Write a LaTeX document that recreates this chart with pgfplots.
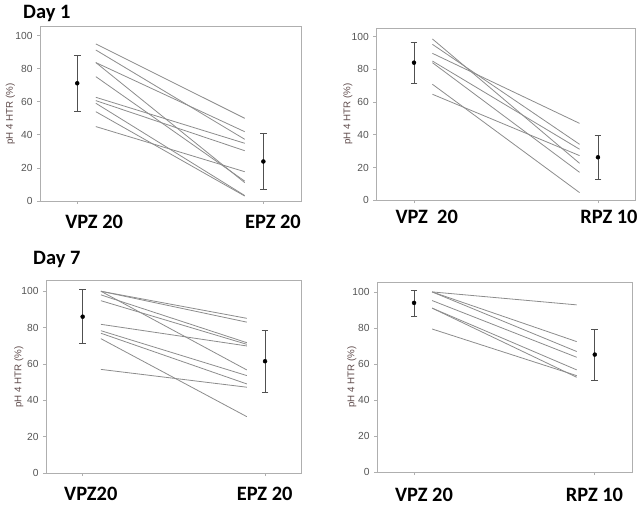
\documentclass[border=0pt]{standalone}
\usepackage{fontspec}
\setmainfont{Carlito}
\newfontfamily\tickfont{Liberation Sans}
\usepackage{pgfplots}
\pgfplotsset{compat=1.18}
\definecolor{frame}{RGB}{175,175,175}
\definecolor{ln}{RGB}{140,140,140}
\definecolor{tl}{RGB}{85,85,85}
\definecolor{yl}{RGB}{95,75,75}
\definecolor{eb}{RGB}{80,80,80}
\pgfplotsset{
  panel/.style={
    scale only axis,
    axis line style={frame, line width=0.8bp},
    ymin=0, ytick={0,20,40,60,80,100},
    xtick={0,1}, xticklabels={,},
    tick align=outside,
    major tick length=3bp,
    tick style={frame, line width=0.7bp},
    xtick pos=bottom, ytick pos=left,
    /pgf/number format/assume math mode=true,
    yticklabel style={font=\tickfont\fontsize{10.3}{11}\selectfont, text=tl, xshift=-1bp},
    ylabel={pH 4 HTR (\%)},
    ylabel style={font=\tickfont\fontsize{9.8}{10}\selectfont, text=yl, anchor=center},
    clip=false,
  },
  pl/.style={ln, line width=0.8bp, no marks},
  eplot/.style={only marks, mark=*, mark size=2bp, black,
    error bars/.cd, y dir=both, y explicit,
    error bar style={eb, line width=0.6bp},
    error mark options={rotate=90, mark size=3.3bp, eb, line width=0.6bp}},
}
\newcommand\catfont{\bfseries\fontsize{20.5}{20.5}\selectfont}
\begin{document}
\begin{tikzpicture}[x=1bp,y=1bp]
\useasboundingbox (0bp,0bp) rectangle (644bp,506bp);
% ---------------- Panel 1: Day 1, VPZ 20 vs EPZ 20
\begin{axis}[panel, at={(40bp,305bp)}, anchor=south west,
  width=261.7bp, height=174.3bp, xmin=-0.2, xmax=1.206, ymax=105.4,
  ylabel style={at={(axis description cs:-0.113,0.5)}}]
\addplot[pl] coordinates {(0.1,95) (0.9,50)};
\addplot[pl] coordinates {(0.1,91.3) (0.9,37.3)};
\addplot[pl] coordinates {(0.1,83.7) (0.9,41.9)};
\addplot[pl] coordinates {(0.1,83.7) (0.9,11.1)};
\addplot[pl] coordinates {(0.1,75.2) (0.9,12)};
\addplot[pl] coordinates {(0.1,62.7) (0.9,34.9)};
\addplot[pl] coordinates {(0.1,60.7) (0.9,30.4)};
\addplot[pl] coordinates {(0.1,59.1) (0.9,3.3)};
\addplot[pl] coordinates {(0.1,54) (0.9,3)};
\addplot[pl] coordinates {(0.1,45) (0.9,17.7)};
\addplot[eplot] coordinates {(0,71.2) +- (0,17) (1,23.9) +- (0,16.8)};
\end{axis}
% ---------------- Panel 2: Day 1, VPZ 20 vs RPZ 10
\begin{axis}[panel, at={(376.3bp,305.7bp)}, anchor=south west,
  width=259bp, height=172bp, xmin=-0.205, xmax=1.203, ymax=105.1,
  ylabel style={at={(axis description cs:-0.110,0.5)}}]
\addplot[pl] coordinates {(0.1,98.6) (0.9,22.6)};
\addplot[pl] coordinates {(0.1,95.3) (0.9,34.2)};
\addplot[pl] coordinates {(0.1,89.8) (0.9,47)};
\addplot[pl] coordinates {(0.1,85.1) (0.9,31.2)};
\addplot[pl] coordinates {(0.1,84.1) (0.9,17.1)};
\addplot[pl] coordinates {(0.1,70.9) (0.9,4.7)};
\addplot[pl] coordinates {(0.1,64.8) (0.9,27.3)};
\addplot[eplot] coordinates {(0,84.1) +- (0,12.5) (1,26.3) +- (0,13.4)};
\end{axis}
% ---------------- Panel 3: Day 7, VPZ20 vs EPZ 20
\begin{axis}[panel, at={(46bp,33bp)}, anchor=south west,
  width=255.7bp, height=192.3bp, xmin=-0.201, xmax=1.201, ymax=105.8,
  ylabel style={at={(axis description cs:-0.106,0.5)}}]
\addplot[pl] coordinates {(0.1,100) (0.9,85.1)};
\addplot[pl] coordinates {(0.1,100) (0.9,83)};
\addplot[pl] coordinates {(0.1,100) (0.9,56.7)};
\addplot[pl] coordinates {(0.1,98) (0.9,71.7)};
\addplot[pl] coordinates {(0.1,94.8) (0.9,70.8)};
\addplot[pl] coordinates {(0.1,81.8) (0.9,69.9)};
\addplot[pl] coordinates {(0.1,78.3) (0.9,53.6)};
\addplot[pl] coordinates {(0.1,76.9) (0.9,49)};
\addplot[pl] coordinates {(0.1,73.9) (0.9,31)};
\addplot[pl] coordinates {(0.1,57) (0.9,47.2)};
\addplot[eplot] coordinates {(0,86) +- (0,14.8) (1,61.5) +- (0,17)};
\end{axis}
% ---------------- Panel 4: Day 7, VPZ 20 vs RPZ 10
\begin{axis}[panel, at={(377bp,34bp)}, anchor=south west,
  width=255bp, height=190bp, xmin=-0.205, xmax=1.206, ymax=105.5,
  ylabel style={at={(axis description cs:-0.099,0.5)}}]
\addplot[pl] coordinates {(0.1,100) (0.9,92.8)};
\addplot[pl] coordinates {(0.1,100) (0.9,72.4)};
\addplot[pl] coordinates {(0.1,100) (0.9,66.9)};
\addplot[pl] coordinates {(0.1,95.2) (0.9,63.7)};
\addplot[pl] coordinates {(0.1,91) (0.9,56.7)};
\addplot[pl] coordinates {(0.1,91) (0.9,52.6)};
\addplot[pl] coordinates {(0.1,79.4) (0.9,53.5)};
\addplot[eplot] coordinates {(0,93.9) +- (0,7.2) (1,65.2) +- (0,14.2)};
\end{axis}
% ---------------- titles and category labels
\node[anchor=base west, font=\catfont, inner sep=0] at (23bp,487.5bp) {Day 1};
\node[anchor=base west, font=\catfont, inner sep=0] at (33bp,241bp) {Day 7};
\node[font=\catfont, inner sep=0] at (94.2bp,284bp) {VPZ 20};
\node[font=\catfont, inner sep=0] at (273bp,284bp) {EPZ 20};
\node[font=\catfont, inner sep=0] at (426.7bp,289bp) {VPZ\ \ 20};
\node[font=\catfont, inner sep=0] at (609bp,289bp) {RPZ 10};
\node[font=\catfont, inner sep=0] at (90.8bp,12bp) {VPZ20};
\node[font=\catfont, inner sep=0] at (264.7bp,12bp) {EPZ 20};
\node[font=\catfont, inner sep=0] at (424bp,11bp) {VPZ 20};
\node[font=\catfont, inner sep=0] at (594.5bp,11bp) {RPZ 10};
\end{tikzpicture}
\end{document}
